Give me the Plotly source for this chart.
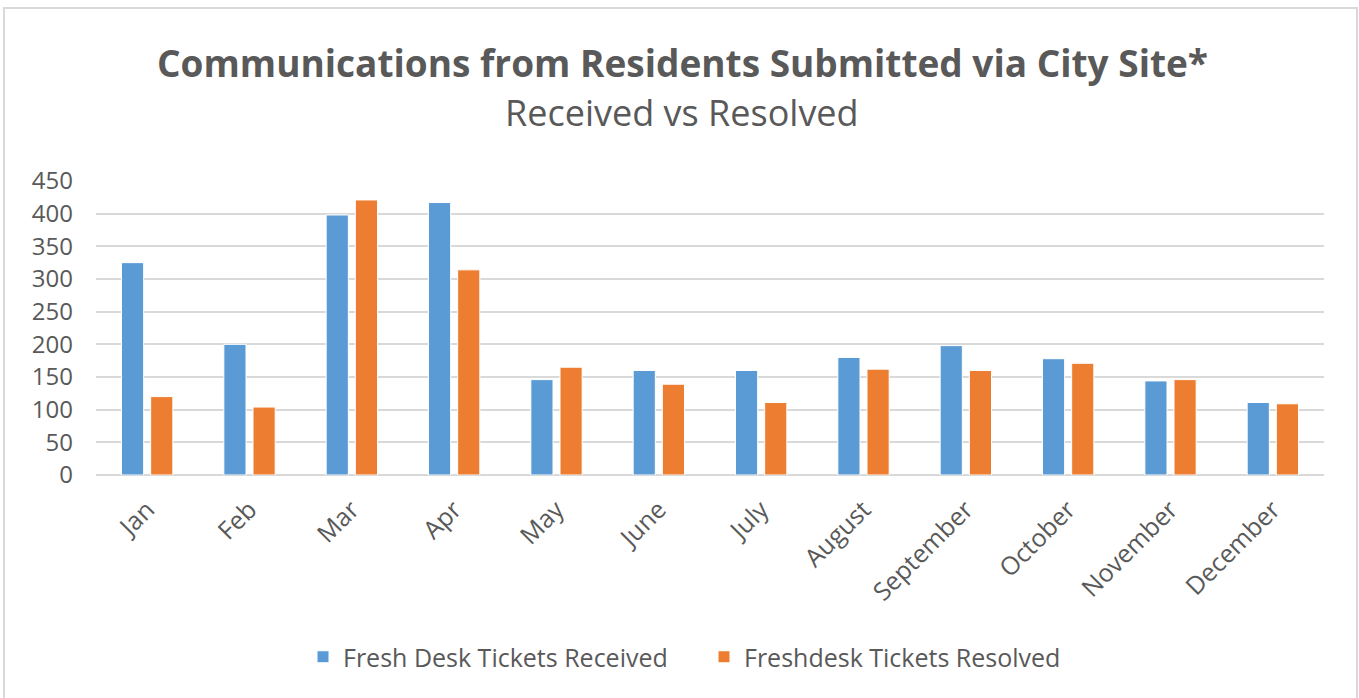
import plotly.graph_objects as go

months = ["Jan", "Feb", "Mar", "Apr", "May", "June", "July", "August",
          "September", "October", "November", "December"]
received = [325, 200, 398, 417, 146, 160, 160, 180, 198, 178, 144, 111]
resolved = [120, 104, 421, 314, 165, 139, 111, 162, 160, 171, 146, 109]
y_ticks = [0, 50, 100, 150, 200, 250, 300, 350, 400, 450]

W, H = 1359, 698
L, R, T, B = 96, 1324, 181, 475
pw, ph = R - L, B - T


def px(x):
    return (x - L) / pw


def py(y):
    return (B - y) / ph


FONT = "Open Sans"
TXT = "#595959"

fig = go.Figure()
fig.add_trace(go.Bar(x=months, y=received, name="Fresh Desk Tickets Received",
                     marker=dict(color="#5B9BD5", line=dict(color="white", width=1))))
fig.add_trace(go.Bar(x=months, y=resolved, name="Freshdesk Tickets Resolved",
                     marker=dict(color="#ED7D31", line=dict(color="white", width=1))))

fig.update_layout(
    width=W, height=H,
    margin=dict(l=L, r=W - R, t=T, b=H - B, autoexpand=False),
    paper_bgcolor="white", plot_bgcolor="white",
    barmode="group", bargap=0.43, bargroupgap=0.24,
    font=dict(family=FONT, color=TXT),
    showlegend=True,
    legend=dict(orientation="h", x=px(303), xanchor="left", y=py(657), yanchor="middle",
                font=dict(size=25, color=TXT), itemwidth=30, traceorder="normal",
                entrywidth=356, entrywidthmode="pixels", bgcolor="rgba(0,0,0,0)"),
    xaxis=dict(tickangle=-45, tickfont=dict(size=25, color=TXT), showgrid=False,
               showline=False, ticks="", ticklabelstandoff=14),
    yaxis=dict(range=[0, 450], tickvals=y_ticks, tickfont=dict(size=24, color=TXT),
               gridcolor="#D9D9D9", gridwidth=2, zeroline=True, zerolinecolor="#D9D9D9",
               zerolinewidth=2, showline=False, ticks="", ticklabelstandoff=22),
    annotations=[
        dict(text="<b>Communications from Residents Submitted via City Site*</b>",
             xref="paper", yref="paper", x=px(682), y=py(62), xanchor="center",
             yanchor="middle", showarrow=False, font=dict(size=37, color=TXT, family=FONT)),
        dict(text="Received vs Resolved", xref="paper", yref="paper", x=px(682), y=py(113),
             xanchor="center", yanchor="middle", showarrow=False,
             font=dict(size=36, color=TXT, family=FONT)),
    ],
    shapes=[dict(type="rect", xref="paper", yref="paper", x0=px(4), x1=px(1357),
                 y0=py(8), y1=py(702), line=dict(color="#D9D9D9", width=2),
                 fillcolor="rgba(0,0,0,0)", layer="below")],
)

fig.write_html("out.html", config={"displayModeBar": False},
               post_script="document.body.style.margin='0px';")
